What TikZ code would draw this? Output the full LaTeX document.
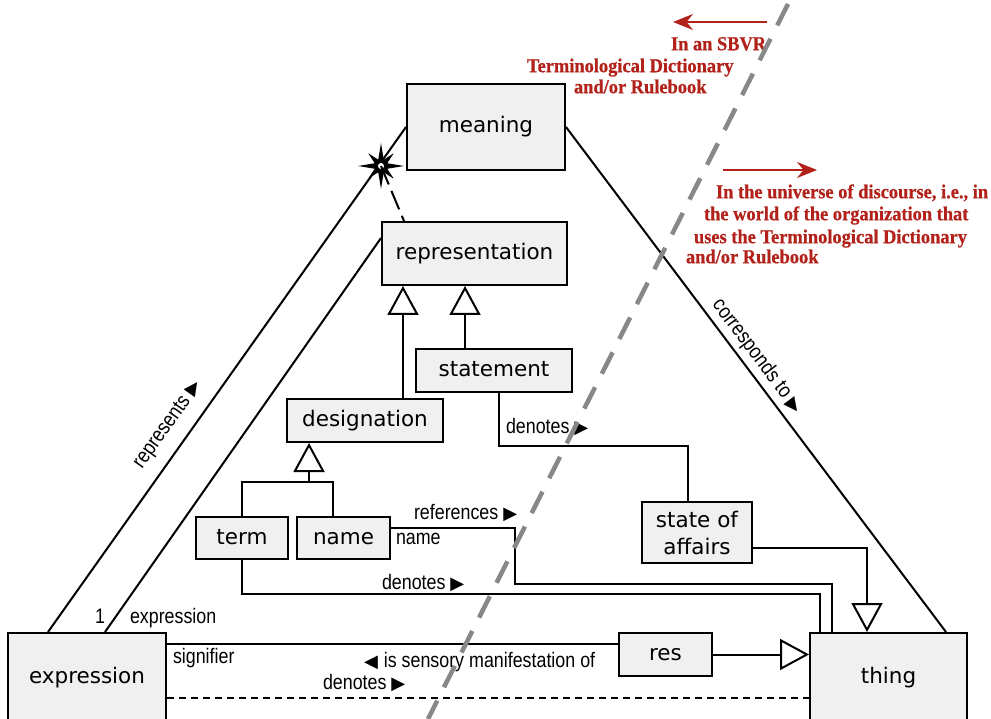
\documentclass[tikz,border=0pt]{standalone}
\usepackage{fontspec}
\usetikzlibrary{arrows.meta,shapes.geometric}
\newfontfamily\boxfont{DejaVu Sans}
\newfontfamily\lblfont[FakeStretch=0.85]{Liberation Sans}
\newfontfamily\symfont{DejaVu Sans}
\newfontfamily\redfont[FakeStretch=0.93,BoldFeatures={FakeBold=0.6,FakeStretch=0.93}]{Liberation Serif}
\definecolor{boxfill}{RGB}{240,240,240}
\definecolor{redc}{RGB}{178,34,27}
\definecolor{sepgray}{RGB}{136,136,136}
\newcommand{\rtri}{{\symfont\fontsize{18}{18}\selectfont ▶}}
\newcommand{\ltri}{{\symfont\fontsize{18}{18}\selectfont ◀}}
\begin{document}
\begin{tikzpicture}[x=1pt,y=-1pt,line width=2pt,
  box/.style={draw, fill=boxfill, inner sep=0pt, text height=12pt, text depth=0pt,
    font=\boxfont\fontsize{21.5}{27}\selectfont},
  lbl/.style={inner sep=0pt, text height=13pt, text depth=0pt,
    font=\lblfont\fontsize{21}{24}\selectfont},
  redtxt/.style={inner sep=0pt, anchor=west, text=redc, text height=12.5pt, text depth=0pt,
    font=\redfont\bfseries\fontsize{19.8}{22}\selectfont},
  gen/.style={-{Triangle[open,length=29pt,width=31pt]}},
  redarrow/.style={draw=redc, line width=2pt, -{Stealth[length=20pt,width=16pt]}},
  sep/.style={draw=sepgray, line width=4.5pt, dash pattern=on 24pt off 15pt},
  burst/.style={star, star points=4, inner sep=0pt, fill=black, draw=none}
]
\useasboundingbox (0,0) rectangle (991,719);

% boxes
\node[box, minimum width=158pt, minimum height=86pt] (meaning) at (486,127) {meaning};
\node[box, minimum width=185pt, minimum height=63pt] (representation) at (474.5,253.5) {representation};
\node[box, minimum width=156pt, minimum height=43pt] (statement) at (494,370.5) {statement};
\node[box, minimum width=156pt, minimum height=43pt] (designation) at (365,420.5) {designation};
\node[box, minimum width=92pt, minimum height=42pt] (term) at (242,538) {term};
\node[box, minimum width=93pt, minimum height=42pt] (name) at (343.5,538) {name};
\node[box, minimum width=110pt, minimum height=61pt, align=center, text height=, text depth=] (soa) at (697,532.5) {state of\\affairs};
\node[box, minimum width=93pt, minimum height=43pt] (res) at (665.5,654.5) {res};
\node[box, minimum width=158pt, minimum height=88pt] (expression) at (87,677) {expression};
\node[box, minimum width=157pt, minimum height=88pt] (thing) at (888.5,677) {thing};

% triangle of meaning
\draw (expression.north -| 48,0) -- node[lbl, sloped, above=16pt, pos=0.385] (lrep) {represents \rtri} (meaning.west);
\draw (expression.north -| 105,0) -- (representation.west |- 0,238);
\draw (meaning.east) -- node[lbl, sloped, above=8.5pt, pos=0.472] (lcorr) {corresponds to \rtri} (thing.north -| 946,0);
\node[burst, star point ratio=5, minimum size=46pt] (star) at (381,166) {};
\node[burst, star point ratio=4, minimum size=36pt, shape border rotate=45] (star2) at (star.center) {};
\node[circle, fill=white, minimum size=6pt, inner sep=0pt] (starc) at (star.center) {};
\draw[dash pattern=on 20pt off 7pt] (star.center) -- (representation.north -| 404,0);

% generalizations
\draw[gen] (designation.north -| 403,0) -- (representation.south -| 403,0);
\draw[gen] (statement.north -| 465,0) -- (representation.south -| 465,0);
\draw (term.north) |- (333,482) -- (name.north -| 333,0);
\draw[gen] (309,482) -- (designation.south -| 309,0);
\draw[gen] (soa.east |- 0,548) -| (thing.north -| 867,0);

% associations
\draw (statement.south -| 499,0) |- (688,446) -- (soa.north -| 688,0);
\draw (name.east |- 0,528) -| (515,584) -| (thing.north -| 832,0);
\draw (term.south) |- (820,594) -- (thing.north -| 820,0);
\draw (expression.east |- 0,644) -- (res.west |- 0,644);
\draw[gen] (res.east) -- (thing.west |- res.east);
\draw[dash pattern=on 7pt off 5pt] (expression.east |- 0,698) -- (thing.west |- 0,698);

% labels
\node[lbl, anchor=west] (lden1) at (505,427) {denotes \rtri};
\node[lbl, anchor=west] (lref) at (413,513) {references \rtri};
\node[lbl, anchor=west] (lname) at (395,538) {name};
\node[lbl, anchor=west] (lden2) at (381,583) {denotes \rtri};
\node[lbl] (lone) at (100,617) {1};
\node[lbl, anchor=west] (lexpr) at (129,617) {expression};
\node[lbl, anchor=west] (lsig) at (172,657) {signifier};
\node[lbl, anchor=west] (lism) at (363,661) {\ltri\hspace{6pt}is sensory manifestation of};
\node[lbl, anchor=west] (lden3) at (322,683) {denotes \rtri};

% red annotations
\draw[redarrow] (767,22) -- (673,22);
\node[redtxt] (r1) at (670,44) {In an SBVR};
\node[redtxt] (r2) at (526,66) {Terminological Dictionary};
\node[redtxt] (r3) at (573,87) {and/or Rulebook};
\draw[redarrow] (723,170) -- (817,170);
\node[redtxt] (u1) at (715,192) {In the universe of discourse, i.e., in};
\node[redtxt] (u2) at (703,214) {the world of the organization that};
\node[redtxt] (u3) at (693,237) {uses the Terminological Dictionary};
\node[redtxt] (u4) at (685,257) {and/or Rulebook};

% separator
\coordinate (septop) at (788,4);
\coordinate (sepbot) at (428,719);
\draw[sep] (septop) -- (sepbot);
\end{tikzpicture}
\end{document}
